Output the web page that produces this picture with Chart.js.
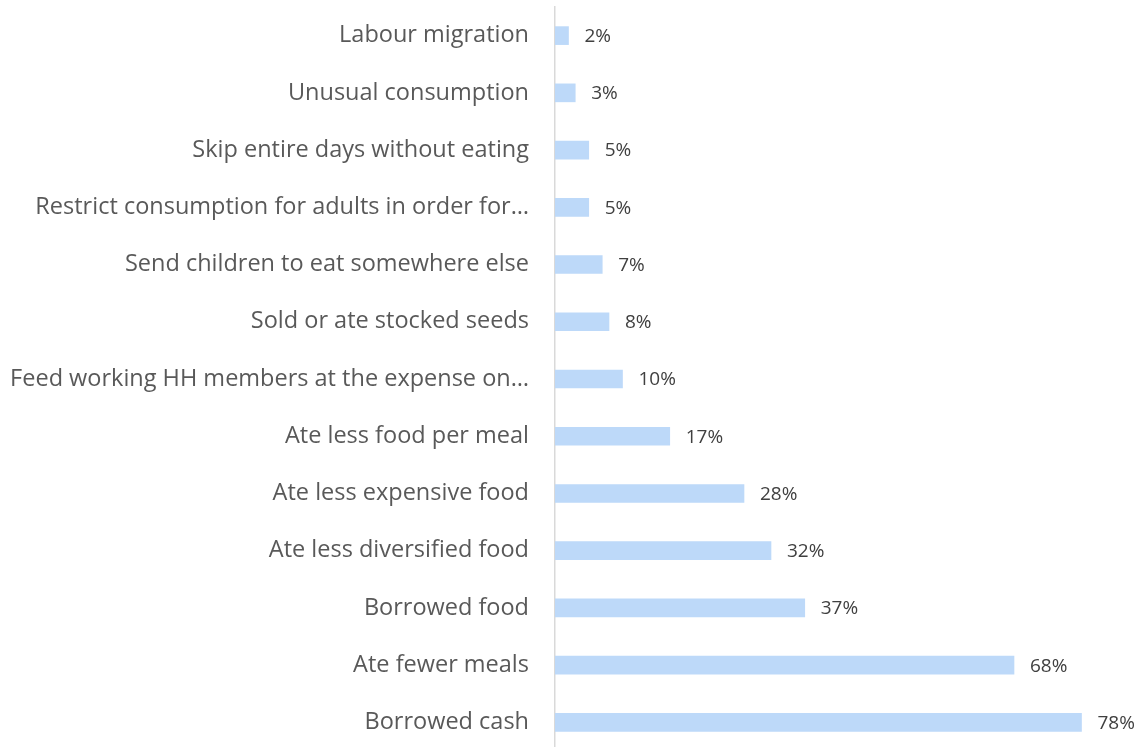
<!DOCTYPE html>
<html>
<head>
<meta charset="utf-8">
<script src="https://cdn.jsdelivr.net/npm/chart.js@4"></script>
<style>
  html, body { margin: 0; padding: 0; background: #fff; overflow: hidden; }
  #wrap { width: 1145px; height: 751px; position: relative; }
</style>
</head>
<body>
<div id="wrap"><canvas id="myChart"></canvas></div>
<script>
// strategie di coping, dall'alto verso il basso
const strategie = [
  "Labour migration",
  "Unusual consumption",
  "Skip entire days without eating",
  "Restrict consumption for adults in order for…",
  "Send children to eat somewhere else",
  "Sold or ate stocked seeds",
  "Feed working HH members at the expense on…",
  "Ate less food per meal",
  "Ate less expensive food",
  "Ate less diversified food",
  "Borrowed food",
  "Ate fewer meals",
  "Borrowed cash"
]
const percentuali = [2, 3, 5, 5, 7, 8, 10, 17, 28, 32, 37, 68, 78]

// scrive la percentuale alla fine di ogni barra
const etichette = {
  id: 'etichette',
  afterDatasetsDraw(chart) {
    const ctx = chart.ctx
    const meta = chart.getDatasetMeta(0)
    ctx.save()
    ctx.font = '19px "Open Sans"'
    ctx.fillStyle = '#404040'
    ctx.textAlign = 'left'
    ctx.textBaseline = 'middle'
    meta.data.forEach((bar, i) => {
      ctx.fillText(percentuali[i] + '%', bar.x + 16, bar.y + 1)
    })
    ctx.restore()
  }
}

const ctx = document.getElementById('myChart').getContext('2d')
const myChart = new Chart(ctx, {
  type: 'bar',
  data: {
    labels: strategie,
    datasets: [{
      data: percentuali,
      backgroundColor: '#BDD9F9',
      barThickness: 18
    }]
  },
  options: {
    indexAxis: 'y',
    responsive: true,
    maintainAspectRatio: false,
    devicePixelRatio: 1,
    animation: false,
    layout: { padding: { top: 7, right: 50, bottom: 0, left: 0 } },
    plugins: {
      legend: { display: false },
      tooltip: { enabled: false }
    },
    scales: {
      x: {
        display: false,
        min: 0,
        max: 80
      },
      y: {
        // larghezza fissa dell'asse e niente spazio extra sopra/sotto
        afterFit: (scale) => {
          scale.width = 555
          scale.paddingTop = 0
          scale.paddingBottom = 0
        },
        grid: { display: false, drawTicks: false },
        border: { display: true, color: '#D9D9D9', width: 1.5 },
        ticks: {
          autoSkip: false,
          padding: 26,
          color: '#595959',
          font: { family: '"Open Sans"', size: 23.5 }
        }
      }
    }
  },
  plugins: [etichette]
});
</script>
</body>
</html>
